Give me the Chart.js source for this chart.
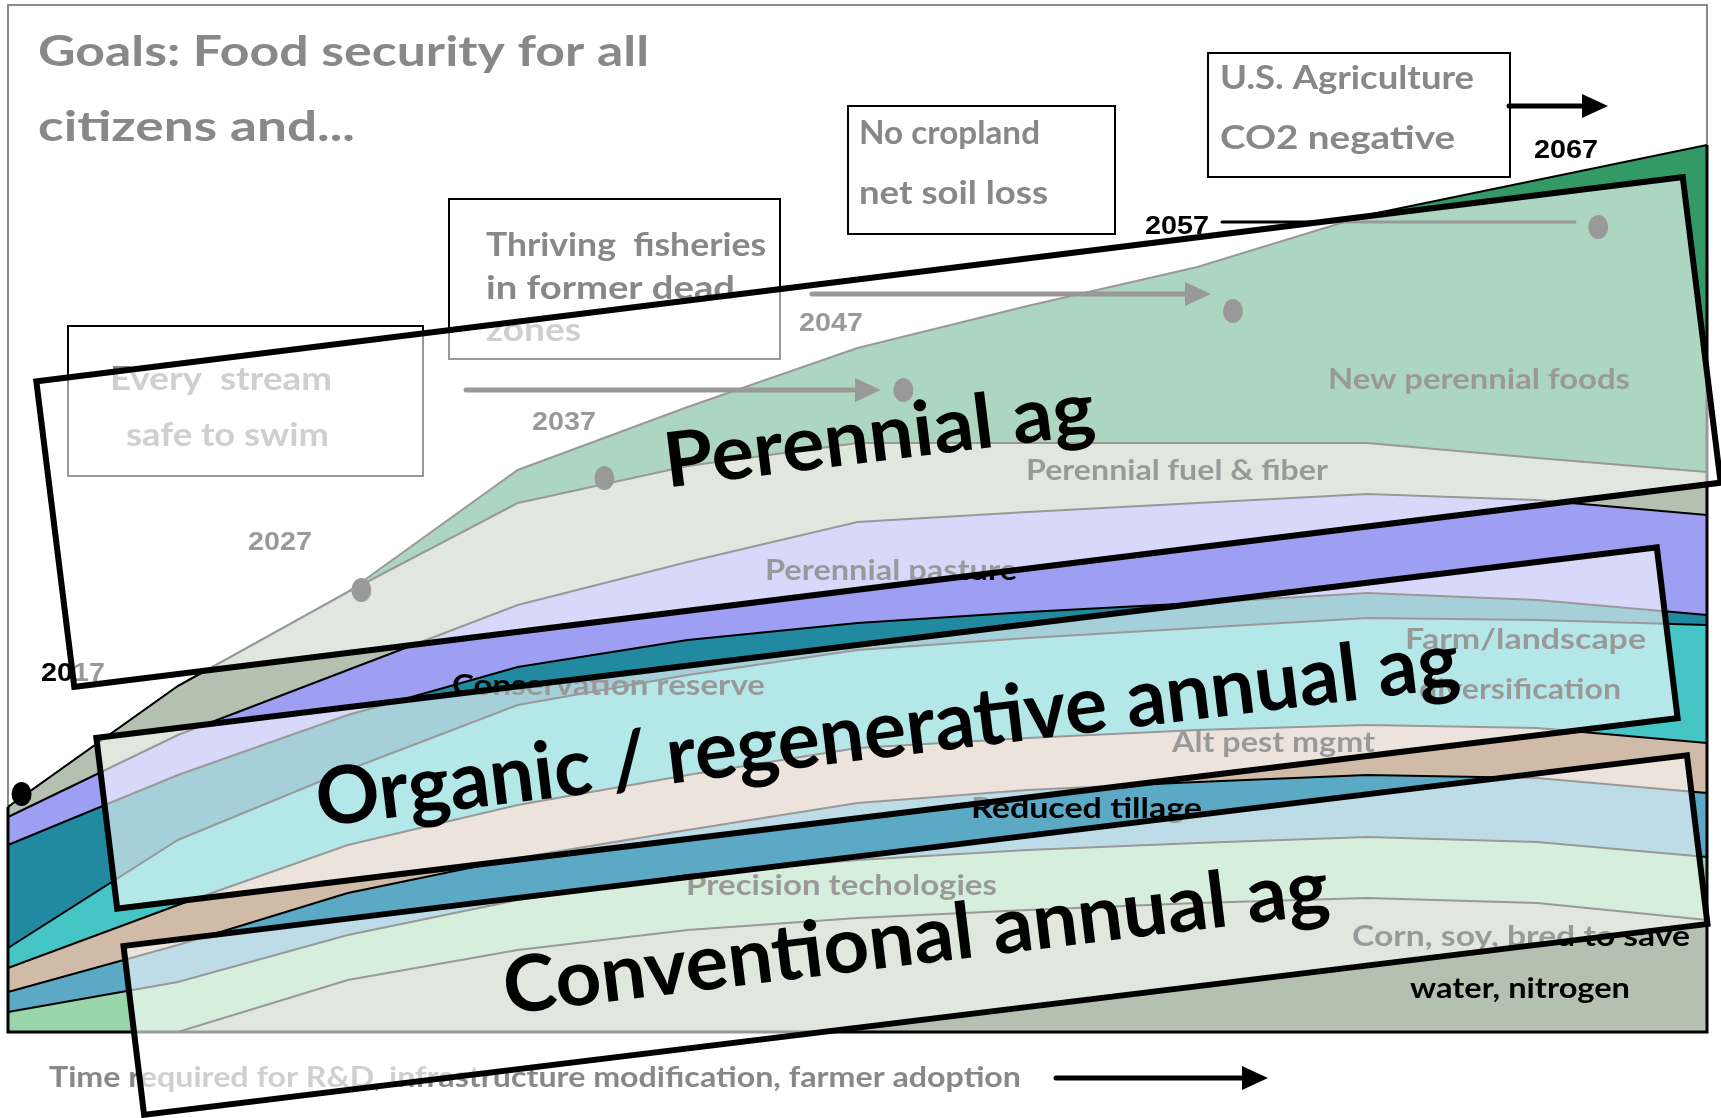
<!DOCTYPE html>
<html>
<head>
<meta charset="utf-8">
<script src="https://cdn.jsdelivr.net/npm/chart.js@4.4.0/dist/chart.umd.min.js"></script>
<style>
  html, body { margin: 0; padding: 0; background: #fff; }
</style>
</head>
<body>
<canvas id="roadmap" width="1721" height="1118"></canvas>
<script>
// time steps along the x axis
const years = ['2017', '2022', '2027', '2032', '2037', '2042', '2047', '2052', '2057', '2062', '2067'];

// layer thickness (relative land area), bottom to top
const cornSoy      = [0, 0, 52, 82, 102, 114, 122, 129, 134, 129, 112];
const precisionTech = [20, 50, 45, 50, 55, 58, 60, 60, 61, 61, 63];
const reducedTill  = [20, 37, 42, 42, 45, 57, 60, 61, 62, 64, 64];
const altPest      = [24, 40, 48, 53, 55, 55, 52, 52, 50, 50, 50];
const farmDivers   = [20, 65, 75, 100, 100, 98, 100, 102, 107, 108, 118];
const conservation = [103, 65, 55, 38, 35, 27, 26, 25, 25, 20, 10];
const pasture      = [28, 40, 45, 62, 78, 101, 100, 100, 99, 100, 100];
const fuelFiber    = [10, 49, 78, 102, 96, 79, 69, 60, 51, 42, 43];
const newFoods     = [0, 0, 0, 33, 59, 95, 137, 176, 228, 278, 327];

const layers = [cornSoy, precisionTech, reducedTill, altPest, farmDivers, conservation, pasture, fuelFiber, newFoods];
const layerColors = ['#b5c1b0', '#98d5a9', '#5ba9c4', '#d0bba8', '#45c5c6', '#218aa0', '#9e9ef2', '#b5c1b0', '#339966'];
const yMax = 1027;

// milestone markers (x in time steps, y in area units)
const milestoneYears = ['2017', '2027', '2037', '2047', '2057', '2067'];
const milestoneX = [0.08, 2.08, 3.51, 5.27, 7.21, 9.36];
const milestoneY = [238, 442, 554, 642, 721, 805];

function txt(ctx, s, x, y, w, size, color, family) {
  ctx.save();
  ctx.font = 'bold ' + size + 'px ' + (family || 'Lato, sans-serif');
  ctx.fillStyle = color;
  ctx.textBaseline = 'middle';
  ctx.textAlign = 'left';
  const m = ctx.measureText(s).width;
  ctx.translate(x, y);
  if (w) ctx.scale(w / m, 1);
  ctx.fillText(s, 0, 0);
  ctx.restore();
}

function arrow(ctx, x1, y, x2, lw, head) {
  ctx.save();
  ctx.strokeStyle = '#000';
  ctx.fillStyle = '#000';
  ctx.lineWidth = lw;
  ctx.lineCap = 'round';
  ctx.beginPath();
  ctx.moveTo(x1, y);
  ctx.lineTo(head ? x2 - 20 : x2, y);
  ctx.stroke();
  if (head) {
    ctx.beginPath();
    ctx.moveTo(x2, y);
    ctx.lineTo(x2 - 26, y - 12);
    ctx.lineTo(x2 - 26, y + 12);
    ctx.closePath();
    ctx.fill();
  }
  ctx.restore();
}

function goalBox(ctx, x1, y1, x2, y2, lines) {
  ctx.save();
  ctx.strokeStyle = '#000';
  ctx.lineWidth = 2;
  ctx.strokeRect(x1, y1, x2 - x1, y2 - y1);
  ctx.restore();
  lines.forEach(l => txt(ctx, l[0], l[1], l[2], l[3], 32, '#888'));
}

const bands = [
  { label: 'Perennial ag', cx: 878.5, cy: 432, w: 1659, h: 308, ang: -0.1234, tw: 433, size: 76 },
  { label: 'Organic / regenerative annual ag', cx: 887, cy: 728, w: 1572, h: 172, ang: -0.1214, tw: 1151, size: 80 },
  { label: 'Conventional annual ag', cx: 915.5, cy: 935, w: 1575, h: 170, ang: -0.1214, tw: 831, size: 78 }
];

const decor = {
  id: 'decor',
  beforeDatasetsDraw(chart) {
    const ctx = chart.ctx, a = chart.chartArea;
    ctx.save();
    ctx.strokeStyle = '#8c8c8c';
    ctx.lineWidth = 2;
    ctx.strokeRect(a.left, a.top, a.right - a.left, a.bottom - a.top);
    ctx.restore();
  },
  afterDatasetsDraw(chart) {
    const ctx = chart.ctx;
    const xs = chart.scales.x, ys = chart.scales.y;
    const last = years.length - 1;
    const total = i => layers.reduce((s, l) => s + l[i], 0);

    // black outline of the stack sides and base
    ctx.save();
    ctx.strokeStyle = '#000';
    ctx.lineWidth = 3;
    ctx.beginPath();
    ctx.moveTo(xs.getPixelForValue(0), ys.getPixelForValue(total(0)));
    ctx.lineTo(xs.getPixelForValue(0), ys.getPixelForValue(0));
    ctx.lineTo(xs.getPixelForValue(last), ys.getPixelForValue(0));
    ctx.lineTo(xs.getPixelForValue(last), ys.getPixelForValue(total(last)));
    ctx.stroke();
    ctx.restore();

    // title
    txt(ctx, 'Goals: Food security for all', 38, 52, 611, 42, '#888');
    txt(ctx, 'citizens and...', 38, 127, 317, 42, '#888');

    // goal boxes
    goalBox(ctx, 68, 326, 423, 476, [['Every  stream', 110, 380, 222], ['safe to swim', 126, 436, 203]]);
    goalBox(ctx, 449, 199, 780, 359, [['Thriving  fisheries', 486, 246, 280], ['in former dead', 486, 289, 249], ['zones', 486, 331, 95]]);
    goalBox(ctx, 848, 106, 1115, 234, [['No cropland', 859, 134, 181], ['net soil loss', 859, 194, 189]]);
    goalBox(ctx, 1208, 53, 1510, 177, [['U.S. Agriculture', 1220, 79, 254], ['CO2 negative', 1220, 139, 235]]);

    // layer labels
    const lab = [
      ['New perennial foods', 1328, 380, 302], ['Perennial fuel & fiber', 1026, 471, 302],
      ['Perennial pasture', 765, 571, 252], ['Conservation reserve', 452, 686, 313],
      ['Farm/landscape', 1405, 640, 241], ['diversification', 1419, 690, 202],
      ['Alt pest mgmt', 1172, 743, 203], ['Reduced tillage', 971, 809, 231],
      ['Precision techologies', 686, 886, 311], ['Corn, soy, bred to save', 1352, 937, 338],
      ['water, nitrogen', 1410, 989, 220]
    ];
    lab.forEach(l => txt(ctx, l[0], l[1], l[2], l[3], 28, '#000'));

    // milestone arrows and year labels
    arrow(ctx, 466, 390, 881, 5, true);
    arrow(ctx, 812, 294, 1211, 5, true);
    arrow(ctx, 1222, 222, 1575, 3, false);
    arrow(ctx, 1509, 106, 1608, 5, true);
    const yl = [[41, 674], [248, 543], [532, 423], [799, 324], [1145, 227], [1534, 151]];
    milestoneYears.forEach((y, i) => txt(ctx, y, yl[i][0], yl[i][1], 64, 25, '#000', '"Liberation Sans", Arial, sans-serif'));
    ctx.save();
    ctx.fillStyle = '#000';
    milestoneX.forEach((mx, i) => {
      ctx.beginPath();
      ctx.ellipse(xs.getPixelForValue(mx), ys.getPixelForValue(milestoneY[i]), 10, 12, 0, 0, Math.PI * 2);
      ctx.fill();
    });
    ctx.restore();

    // caption
    txt(ctx, 'Time required for R&D, infrastructure modification, farmer adoption', 49, 1078, 972, 28, '#888');
    arrow(ctx, 1056, 1078, 1268, 5, true);

    // translucent group bands
    bands.forEach(b => {
      ctx.save();
      ctx.translate(b.cx, b.cy);
      ctx.rotate(b.ang);
      ctx.fillStyle = 'rgba(255,255,255,0.6)';
      ctx.fillRect(-b.w / 2, -b.h / 2, b.w, b.h);
      ctx.lineWidth = 6;
      ctx.strokeStyle = '#000';
      ctx.strokeRect(-b.w / 2, -b.h / 2, b.w, b.h);
      ctx.restore();
    });
    bands.forEach(b => {
      ctx.save();
      ctx.translate(b.cx, b.cy);
      ctx.rotate(b.ang);
      ctx.font = 'bold ' + b.size + 'px Lato, sans-serif';
      ctx.fillStyle = '#000';
      ctx.textBaseline = 'alphabetic';
      ctx.textAlign = 'left';
      const m = ctx.measureText(b.label).width;
      ctx.translate(-b.tw / 2, 29);
      ctx.scale(b.tw / m, 1);
      ctx.fillText(b.label, 0, 0);
      ctx.restore();
    });
  }
};

new Chart(document.getElementById('roadmap'), {
  type: 'line',
  data: {
    labels: years,
    datasets: layers.map((l, i) => ({
      data: l,
      backgroundColor: layerColors[i],
      borderColor: '#000',
      borderWidth: 2,
      pointRadius: 0,
      tension: 0,
      fill: i === 0 ? 'origin' : '-1'
    }))
  },
  options: {
    responsive: false,
    animation: false,
    events: [],
    layout: { padding: { left: 8, top: 5, right: 14, bottom: 86 } },
    scales: {
      x: { type: 'category', offset: false, display: false },
      y: { stacked: true, min: 0, max: yMax, display: false }
    },
    plugins: { legend: { display: false }, tooltip: { enabled: false } }
  },
  plugins: [decor]
});
</script>
</body>
</html>
